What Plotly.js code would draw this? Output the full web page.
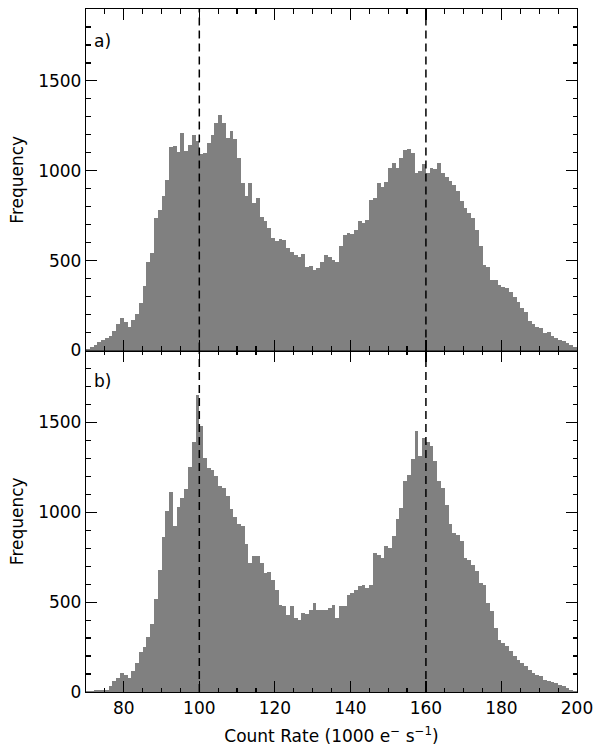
<!DOCTYPE html>
<html>
<head>
<meta charset="utf-8">
<script src="https://cdn.plot.ly/plotly-3.0.1.min.js"></script>
<style>
  html, body { margin: 0; padding: 0; background: #ffffff; }
  #chart { width: 597px; height: 749px; }
</style>
</head>
<body>
<div id="chart"></div>
<script>
// Histogram bins: lower edges (1000 e- s-1), width 1
const binLeft = [];
for (let v = 70; v < 200; v++) binLeft.push(v);

// Panel a) counts per bin (70..199)
const countsA = [
  10, 20, 28, 45, 60, 68, 82, 110, 148, 180,
  160, 128, 168, 205, 267, 360, 490, 545, 737, 783,
  858, 951, 1135, 1140, 1105, 1210, 1110, 1145, 1200, 1165,
  1095, 1100, 1155, 1200, 1265, 1310, 1265, 1185, 1220, 1175,
  1070, 930, 860, 930, 820, 850, 745, 720, 680, 625,
  607, 620, 615, 570, 550, 533, 523, 535, 467, 470,
  450, 460, 495, 533, 523, 505, 495, 580, 640, 653,
  650, 672, 718, 710, 725, 840, 850, 930, 910, 940,
  1016, 1044, 1016, 1072, 1118, 1122, 1100, 988, 997, 1035,
  990, 1015, 1010, 1044, 985, 965, 942, 922, 885, 830,
  792, 765, 737, 672, 580, 477, 467, 393, 393, 365,
  356, 346, 328, 300, 272, 235, 216, 165, 150, 133,
  124, 100, 105, 78, 70, 60, 52, 42, 30, 20
];

// Panel b) counts per bin (70..199)
const countsB = [
  8, 8, 10, 10, 13, 13, 31, 59, 78, 106,
  95, 80, 115, 160, 222, 250, 305, 380, 520, 680,
  865, 1005, 1110, 925, 1030, 1080, 1130, 1250, 1390, 1650,
  1480, 1300, 1245, 1235, 1200, 1148, 1135, 1090, 1020, 975,
  932, 922, 826, 717, 755, 755, 717, 662, 667, 625,
  570, 486, 477, 431, 477, 412, 400, 440, 434, 458,
  495, 458, 458, 458, 467, 486, 412, 477, 477, 542,
  551, 570, 588, 598, 579, 598, 774, 765, 746, 811,
  802, 866, 960, 1025, 1173, 1210, 1294, 1451, 1312, 1414,
  1390, 1370, 1284, 1173, 1136, 1043, 932, 885, 876, 839,
  746, 737, 709, 672, 607, 598, 495, 449, 356, 291,
  273, 254, 226, 199, 180, 161, 143, 124, 106, 96,
  87, 69, 59, 55, 50, 41, 32, 22, 13, 7
];

// Reference count rates (dashed lines)
const refLines = [100, 160];

const panelLabels = ['a)', 'b)'];
const xTitle = 'Count Rate (1000 e<sup>\u2212</sup> s<sup>\u22121</sup>)';
const yTitle = 'Frequency';
const yTickVals = [0, 500, 1000, 1500];

const FONT = 'DejaVu Sans, Liberation Sans, sans-serif';
const GRAY = '#808080';

const traces = [
  {
    type: 'bar', x: binLeft, y: countsA, width: 1, offset: 0,
    marker: { color: GRAY, line: { width: 0 } },
    xaxis: 'x2', yaxis: 'y2', hoverinfo: 'x+y', showlegend: false
  },
  {
    type: 'bar', x: binLeft, y: countsB, width: 1, offset: 0,
    marker: { color: GRAY, line: { width: 0 } },
    xaxis: 'x', yaxis: 'y', hoverinfo: 'x+y', showlegend: false
  }
];

const axisCommon = {
  showline: true, linecolor: '#000', linewidth: 1.2, mirror: 'allticks',
  ticks: 'inside', ticklen: 11, tickwidth: 1.2, tickcolor: '#000',
  showgrid: false, zeroline: false,
  tickfont: { family: FONT, size: 17, color: '#000' }
};

const xAxisCommon = Object.assign({}, axisCommon, {
  range: [70, 200], tickvals: [80, 100, 120, 140, 160, 180, 200],
  minor: { ticks: 'inside', dtick: 5, tick0: 70, ticklen: 4.5, tickwidth: 1.2, tickcolor: '#000', showgrid: false }
});
const yAxisCommon = Object.assign({}, axisCommon, {
  range: [0, 1900], tickvals: yTickVals,
  minor: { ticks: 'inside', dtick: 100, tick0: 0, ticklen: 4.5, tickwidth: 1.2, tickcolor: '#000', showgrid: false },
  title: { text: yTitle, font: { family: FONT, size: 17, color: '#000' }, standoff: 10 }
});

const shapes = [];
refLines.forEach(v => {
  ['y', 'y2'].forEach(ax => {
    shapes.push({
      type: 'line', xref: ax === 'y' ? 'x' : 'x2', yref: ax + ' domain',
      x0: v, x1: v, y0: 0, y1: 1,
      line: { color: '#000', width: 1.5, dash: '8px,5px' }
    });
  });
});

const layout = {
  width: 597, height: 749,
  margin: { l: 86, r: 20, t: 9, b: 57 },
  paper_bgcolor: '#fff', plot_bgcolor: '#fff',
  bargap: 0, barmode: 'overlay',
  font: { family: FONT, size: 17, color: '#000' },
  xaxis: Object.assign({}, xAxisCommon, {
    anchor: 'y', domain: [0, 1],
    title: { text: xTitle, font: { family: FONT, size: 17, color: '#000' }, standoff: 13 }
  }),
  xaxis2: Object.assign({}, xAxisCommon, {
    anchor: 'y2', domain: [0, 1], matches: 'x', showticklabels: false
  }),
  yaxis: Object.assign({}, yAxisCommon, { anchor: 'x', domain: [0, 0.5] }),
  yaxis2: Object.assign({}, yAxisCommon, { anchor: 'x2', domain: [0.5, 1] }),
  shapes: shapes,
  annotations: [
    { text: panelLabels[0], xref: 'x2 domain', yref: 'y2 domain', x: 0.012, y: 0.905,
      xanchor: 'left', yanchor: 'middle', showarrow: false, font: { family: FONT, size: 17, color: '#000' } },
    { text: panelLabels[1], xref: 'x domain', yref: 'y domain', x: 0.012, y: 0.912,
      xanchor: 'left', yanchor: 'middle', showarrow: false, font: { family: FONT, size: 17, color: '#000' } }
  ]
};

Plotly.newPlot('chart', traces, layout, { displayModeBar: false, staticPlot: true });
</script>
</body>
</html>
